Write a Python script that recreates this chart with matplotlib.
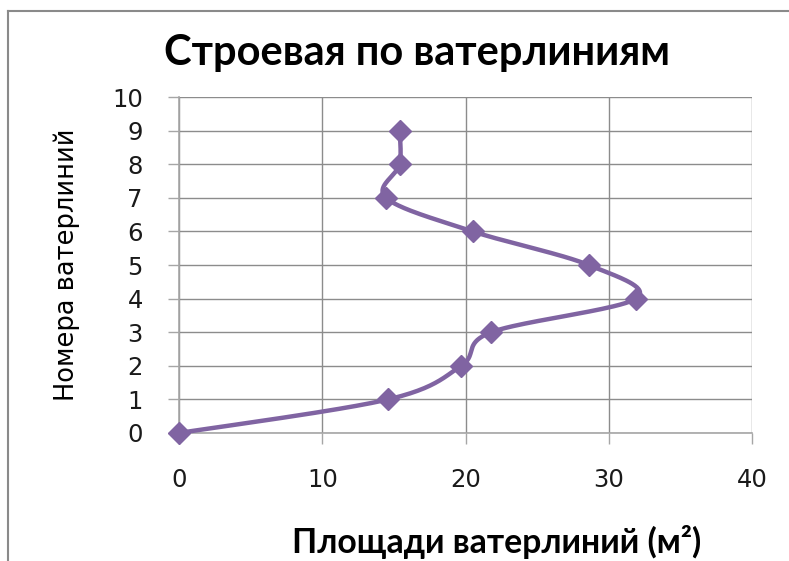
import numpy as np
import matplotlib
matplotlib.use("Agg")
import matplotlib.pyplot as plt
from matplotlib.lines import Line2D

# Waterline areas (m²) and waterline numbers
areas = [0.0, 14.6, 19.7, 21.8, 31.9, 28.6, 20.5, 14.45, 15.4, 15.4]
waterlines = [0, 1, 2, 3, 4, 5, 6, 7, 8, 9]

x_ticks = [0, 10, 20, 30, 40]
y_ticks = list(range(0, 11))

title = "Строевая по ватерлиниям"
x_label = "Площади ватерлиний (м²)"
y_label = "Номера ватерлиний"

line_color = "#8064A2"
grid_color = "#8c8c8c"

fig = plt.figure(figsize=(7.89, 5.61), dpi=100)
ax = fig.add_axes([179 / 789, 1 - 433 / 561, (752 - 179) / 789, (433 - 97) / 561])
ax.set_xlim(0, 40)
ax.set_ylim(0, 10)


def smooth_curve(ax, xs, ys, n=40):
    """Cardinal (Catmull-Rom) Bezier smoothing computed in screen space."""
    pts = ax.transData.transform(np.column_stack([xs, ys]))
    P = np.vstack([pts[0], pts, pts[-1]])
    out = []
    for i in range(1, len(P) - 2):
        p0, p1, p2, p3 = P[i - 1], P[i], P[i + 1], P[i + 2]
        c1 = p1 + (p2 - p0) / 6.0
        c2 = p2 - (p3 - p1) / 6.0
        t = np.linspace(0, 1, n)[:, None]
        seg = ((1 - t) ** 3) * p1 + 3 * ((1 - t) ** 2) * t * c1 + 3 * (1 - t) * t ** 2 * c2 + t ** 3 * p2
        out.append(seg if i == 1 else seg[1:])
    curve = np.vstack(out)
    return ax.transData.inverted().transform(curve)


curve = smooth_curve(ax, areas, waterlines)
ax.plot(curve[:, 0], curve[:, 1], color=line_color, lw=3.2, solid_capstyle="round",
        zorder=3, clip_on=False)
ax.plot(areas, waterlines, linestyle="none", marker="D", markersize=11,
        color=line_color, zorder=4, clip_on=False)

ax.set_xticks(x_ticks)
ax.set_yticks(y_ticks)
ax.grid(True, color=grid_color, lw=1.0)
ax.set_axisbelow(True)
for side in ["top", "right"]:
    ax.spines[side].set_visible(False)
for side in ["left", "bottom"]:
    ax.spines[side].set_color("#a6a6a6")
    ax.spines[side].set_linewidth(1.2)
ax.tick_params(axis="both", which="both", length=8, width=1.0, color="#a6a6a6",
               labelsize=17.5, labelcolor="#1a1a1a")
ax.tick_params(axis="x", pad=17)
ax.tick_params(axis="y", pad=18)
for lab in ax.get_xticklabels() + ax.get_yticklabels():
    lab.set_family("DejaVu Sans")

# Outer chart frame (top and left edges visible)
fig.add_artist(Line2D([8 / 789, 8 / 789], [0, 1 - 11 / 561], transform=fig.transFigure,
                      color="#8a8a8a", lw=1.5))
fig.add_artist(Line2D([8 / 789, 1], [1 - 11 / 561, 1 - 11 / 561], transform=fig.transFigure,
                      color="#8a8a8a", lw=1.5))

fig.text(417 / 789, 1 - 53 / 561, title, ha="center", va="center",
         fontsize=30, fontweight="bold", family="Lato", color="black")
fig.text(497 / 789, 1 - 553 / 561, x_label, ha="center", va="baseline",
         fontsize=24.3, fontweight="bold", family="Lato", color="black")
fig.text(67 / 789, 1 - 265 / 561, y_label, ha="center", va="center", rotation=90,
         fontsize=18.5, family="DejaVu Sans", color="black")

fig.savefig("out.png", dpi=100)
